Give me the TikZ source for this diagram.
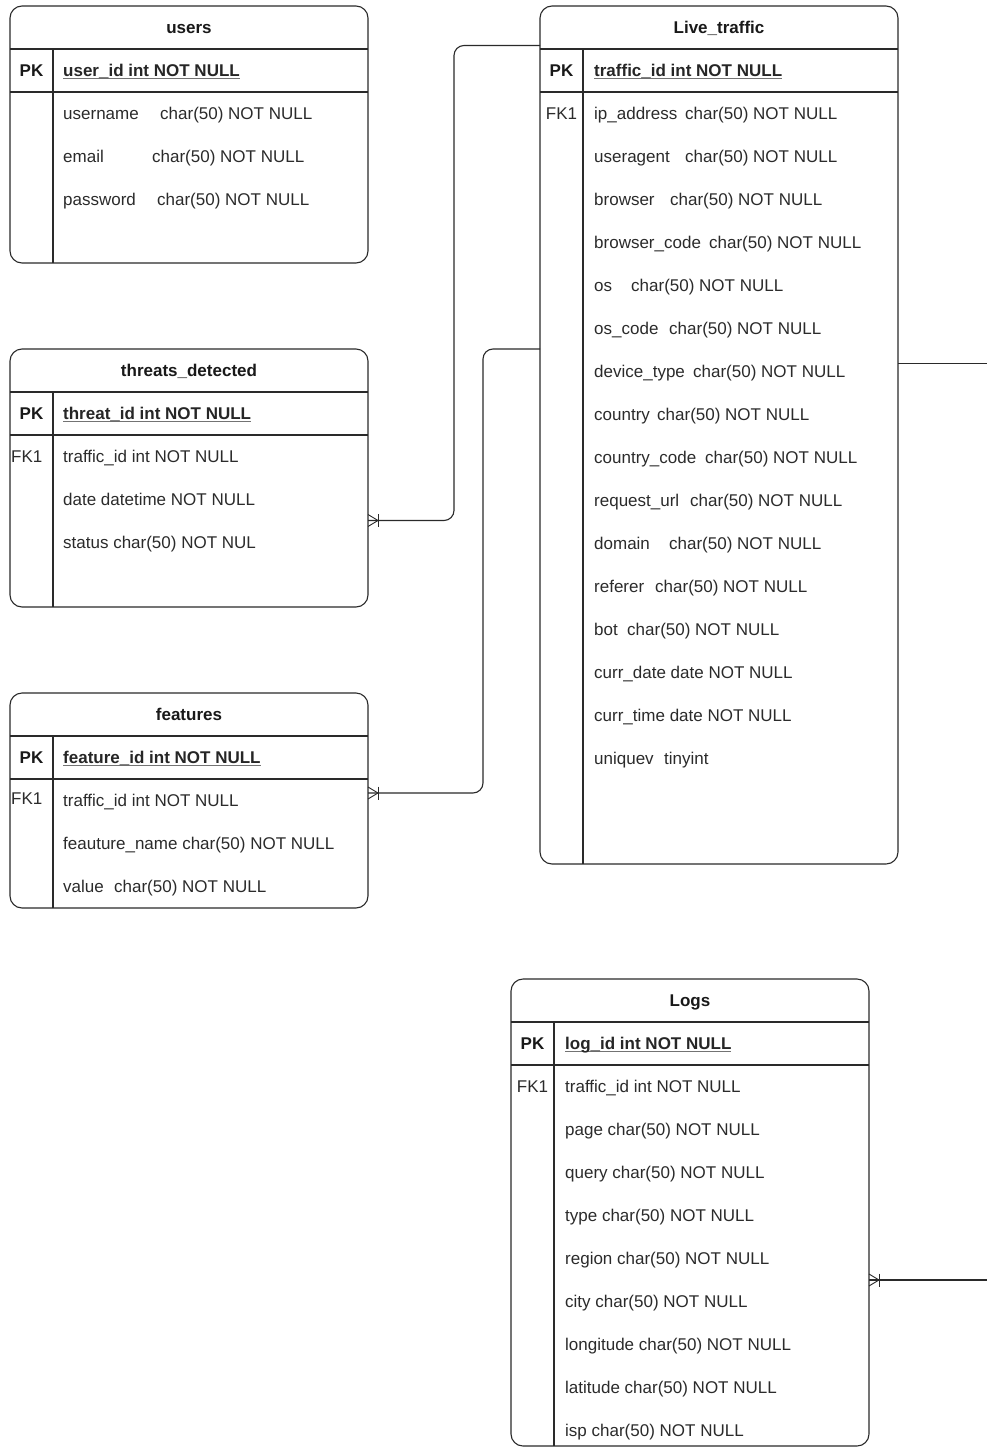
\documentclass[tikz,border=0pt]{standalone}
\usepackage{fontspec}
\setmainfont{Liberation Sans}
\usetikzlibrary{calc}
\definecolor{linec}{HTML}{2A2A2A}
\definecolor{textc}{HTML}{2B2B2B}
\newcommand\rw[3]{\makebox[#2pt][l]{#1}#3}
\newcommand\ulk[1]{\setbox0\hbox{#1}\rlap{\color{black!55}\rule[-2.6pt]{\wd0}{0.9pt}}\box0}
\newcommand\tframe[6]{%
  \node[tbl, minimum width={(#4-#2)*1pt}, minimum height={(#5-#3)*1pt}] (#1) at ({(#2+#4)/2},{(#3+#5)/2}) {};
  \node[ttl] (#1-title) at ({(#2+#4)/2},{#3+21.5}) {#6};
  \draw[tline] (#2,{#3+43}) -- (#4,{#3+43});
  \draw[tline] (#2,{#3+86}) -- (#4,{#3+86});
  \draw[tline] ({#2+43},{#3+43}) -- ({#2+43},#5);
}
\newcommand\crow[1]{%
  \draw[foot] ($(#1)+(0,-6)$) -- ($(#1)+(10,0)$) -- ($(#1)+(0,6)$);
  \draw[foot] ($(#1)+(10,-6.5)$) -- ($(#1)+(10,6.5)$);
}
\tikzset{
  tbl/.style={draw=linec, line width=1.1pt, rounded corners=12pt, inner sep=0pt, outer sep=0pt},
  tline/.style={draw=linec, line width=1.1pt},
  foot/.style={draw=linec, line width=0.9pt},
  conn/.style={draw=linec, line width=1.1pt, rounded corners=10pt},
  txt/.style={inner sep=0pt, text height=14pt, text depth=2pt, text=textc, font=\fontsize{17}{20}\selectfont},
  rowtxt/.style={txt, anchor=west},
  ttl/.style={txt, text=black!90, font=\fontsize{17}{20}\selectfont\bfseries},
  pklab/.style={txt, text=black!90, font=\fontsize{17}{20}\selectfont\bfseries},
  pktxt/.style={txt, text=black!85, anchor=west, font=\fontsize{17}{20}\selectfont\bfseries},
}
\begin{document}
\begin{tikzpicture}[x=1pt, y=-1pt]
\useasboundingbox[fill=white] (0,0) rectangle (987,1448);

% ---------- users ----------
\tframe{users}{10}{6}{368}{263}{users}
\node[pklab] (users-pk) at (31.5,70.5) {PK};
\node[pktxt] (users-pkt) at (63,70.5) {\ulk{user\_id int NOT NULL}};
\node[rowtxt] (users-r0) at (63,113.5) {\rw{username}{97}{char(50) NOT NULL}};
\node[rowtxt] (users-r1) at (63,156.5) {\rw{email}{89}{char(50) NOT NULL}};
\node[rowtxt] (users-r2) at (63,199.5) {\rw{password}{94}{char(50) NOT NULL}};

% ---------- threats_detected ----------
\tframe{td}{10}{349}{368}{607}{threats\_detected}
\node[pklab] (td-pk) at (31.5,413.5) {PK};
\node[pktxt] (td-pkt) at (63,413.5) {\ulk{threat\_id int NOT NULL}};
\node[txt, anchor=west] (td-fk) at (11,456.5) {FK1};
\node[rowtxt] (td-r0) at (63,456.5) {traffic\_id int NOT NULL};
\node[rowtxt] (td-r1) at (63,499.5) {date datetime NOT NULL};
\node[rowtxt] (td-r2) at (63,542.5) {status char(50) NOT NUL};

% ---------- features ----------
\tframe{ft}{10}{693}{368}{908}{features}
\node[pklab] (ft-pk) at (31.5,757.5) {PK};
\node[pktxt] (ft-pkt) at (63,757.5) {\ulk{feature\_id int NOT NULL}};
\node[txt, anchor=west] (ft-fk) at (11,798) {FK1};
\node[rowtxt] (ft-r0) at (63,800.5) {traffic\_id int NOT NULL};
\node[rowtxt] (ft-r1) at (63,843.5) {feauture\_name char(50) NOT NULL};
\node[rowtxt] (ft-r2) at (63,886.5) {\rw{value}{51}{char(50) NOT NULL}};

% ---------- Live_traffic ----------
\tframe{live}{540}{6}{898}{864}{Live\_traffic}
\node[pklab] (live-pk) at (561.5,70.5) {PK};
\node[pktxt] (live-pkt) at (594,70.5) {\ulk{traffic\_id int NOT NULL}};
\node[txt] (live-fk) at (561.5,113.5) {FK1};
\foreach \t [count=\i from 0] in {
  {\rw{ip\_address}{91}{char(50) NOT NULL}},
  {\rw{useragent}{91}{char(50) NOT NULL}},
  {\rw{browser}{76}{char(50) NOT NULL}},
  {\rw{browser\_code}{115}{char(50) NOT NULL}},
  {\rw{os}{37}{char(50) NOT NULL}},
  {\rw{os\_code}{75}{char(50) NOT NULL}},
  {\rw{device\_type}{99}{char(50) NOT NULL}},
  {\rw{country}{63}{char(50) NOT NULL}},
  {\rw{country\_code}{111}{char(50) NOT NULL}},
  {\rw{request\_url}{96}{char(50) NOT NULL}},
  {\rw{domain}{75}{char(50) NOT NULL}},
  {\rw{referer}{61}{char(50) NOT NULL}},
  {\rw{bot}{33}{char(50) NOT NULL}},
  {curr\_date date NOT NULL},
  {curr\_time date NOT NULL},
  {\rw{uniquev}{70}{tinyint}}}
  \node[rowtxt] (live-r\i) at (594,{113.5+43*\i}) {\t};

% ---------- Logs ----------
\tframe{logs}{511}{979}{869}{1446}{Logs}
\node[pklab] (logs-pk) at (532.5,1043.5) {PK};
\node[pktxt] (logs-pkt) at (565,1043.5) {\ulk{log\_id int NOT NULL}};
\node[txt] (logs-fk) at (532.5,1086.5) {FK1};
\foreach \t [count=\i from 0] in {
  {traffic\_id int NOT NULL},
  {page char(50) NOT NULL},
  {query char(50) NOT NULL},
  {type char(50) NOT NULL},
  {region char(50) NOT NULL},
  {city char(50) NOT NULL},
  {longitude char(50) NOT NULL},
  {latitude char(50) NOT NULL},
  {isp char(50) NOT NULL}}
  \node[rowtxt] (logs-r\i) at (565,{1086.5+43*\i}) {\t};

% ---------- connectors ----------
\coordinate (k1) at (454,520.5);
\coordinate (k2) at (483,793);
\coordinate (e1) at (td.east |- 0,520.5);
\coordinate (e2) at (ft.east |- 0,793);
\coordinate (e3) at (logs.east |- 0,1280);
\coordinate (r1) at (987,363.5);
\coordinate (r2) at (987,1280);

\draw[conn] (live.west |- 0,45.5) -| (k1) -- (e1);
\crow{e1}
\draw[conn] (live.west |- 0,349) -| (k2) -- (e2);
\crow{e2}
\draw[conn] (live.east |- 0,363.5) -- (r1);
\draw[conn] (e3) -- (r2);
\crow{e3}
\end{tikzpicture}
\end{document}
